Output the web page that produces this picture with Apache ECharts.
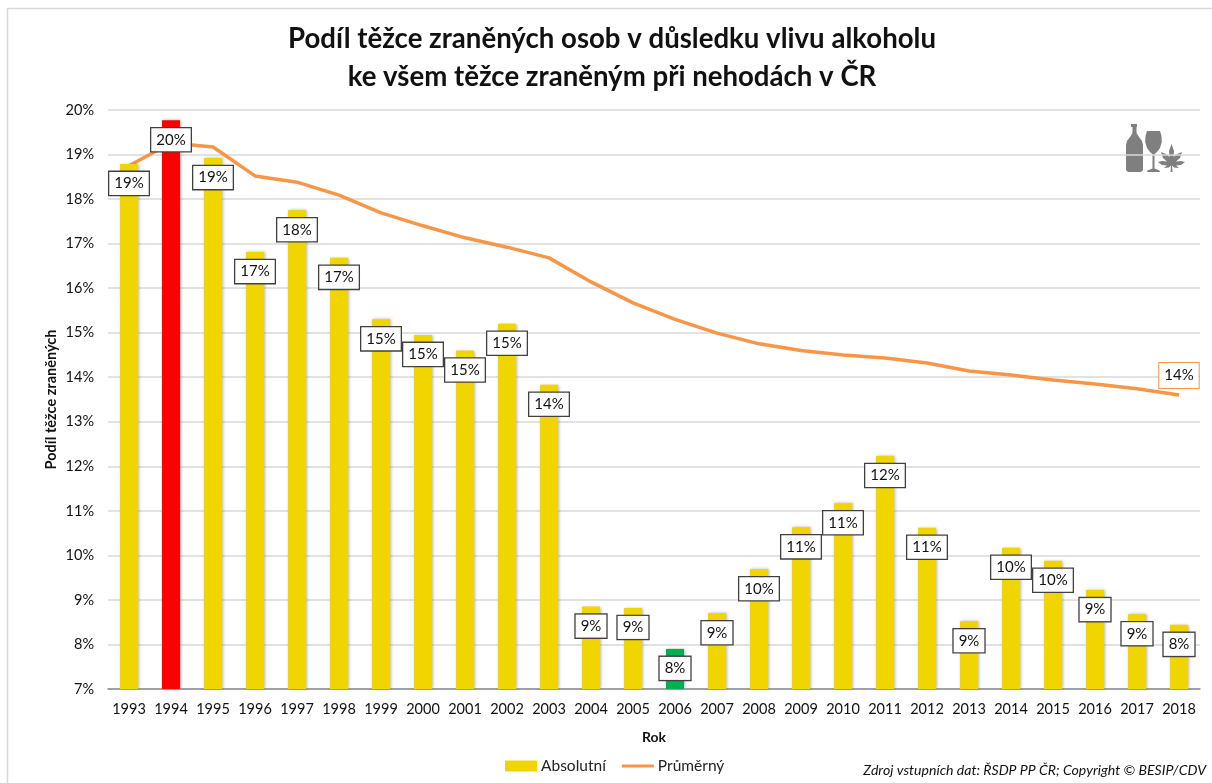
<!DOCTYPE html>
<html><head><meta charset="utf-8">
<style>html,body{margin:0;padding:0;background:#fff}#c{width:1212px;height:783px}</style>
<script src="https://cdn.jsdelivr.net/npm/echarts@6/dist/echarts.min.js"></script>
</head><body><div id="c"></div>
<script>
const years=['1993','1994','1995','1996','1997','1998','1999','2000','2001','2002','2003','2004','2005','2006','2007','2008','2009','2010','2011','2012','2013','2014','2015','2016','2017','2018'];
const absolutni=[18.79,19.77,18.92,16.81,17.75,16.68,15.3,14.95,14.6,15.2,13.83,8.85,8.82,7.9,8.7,9.69,10.63,11.17,12.23,10.62,8.52,10.17,9.88,9.22,8.68,8.44];
const prumerny=[18.75,19.26,19.17,18.52,18.38,18.09,17.69,17.4,17.13,16.92,16.68,16.14,15.67,15.3,14.99,14.75,14.6,14.5,14.43,14.32,14.14,14.05,13.94,13.85,13.74,13.6];
const barColors={'1994':'#FF0000','2006':'#00B050'};
const F='Lato';
const chart=echarts.init(document.getElementById('c'),null,{renderer:'canvas'});
const lbl={show:true,fontFamily:F,fontSize:15,color:'#111',backgroundColor:'#fff',borderWidth:1.3,borderColor:'#404040',padding:[4,5,4,5]};
const G='#7F7F7F';
chart.setOption({
 animation:false,
 title:{text:'Podíl těžce zraněných osob v důsledku vlivu alkoholu\nke všem těžce zraněným při nehodách v ČR',left:607,top:15,textAlign:'center',
  textStyle:{fontFamily:F,fontWeight:'bold',fontSize:27.6,lineHeight:38,color:'#111'}},
 grid:{left:108,right:12,top:110,height:579},
 legend:{left:500,top:753,itemGap:16,itemWidth:32,itemHeight:11,icon:'rect',selectedMode:false,
  textStyle:{fontFamily:F,fontSize:15.5,color:'#222',padding:[0,0,0,-1]},
  data:[{name:'Absolutní',icon:'rect',itemStyle:{color:'#F0D500'}},{name:'Průměrný',icon:'path://M0 4.5H32V7.5H0Z',itemStyle:{color:'#F79646'}}]},
 xAxis:{type:'category',data:years,name:'Rok',nameLocation:'middle',nameGap:41,nameMoveOverlap:false,
  nameTextStyle:{fontFamily:F,fontWeight:'bold',fontSize:14,color:'#111'},
  axisTick:{show:false},axisLine:{lineStyle:{color:'#8C8C8C',width:1.5}},
  axisLabel:{fontFamily:F,fontSize:14.5,color:'#111',margin:13,interval:0}},
 yAxis:{type:'value',min:7,max:20,interval:1,name:'Podíl těžce zraněných',nameLocation:'middle',nameGap:49,nameMoveOverlap:false,
  nameTextStyle:{fontFamily:F,fontWeight:'bold',fontSize:14.5,color:'#111'},
  axisLine:{show:false},axisTick:{show:false},
  axisLabel:{fontFamily:F,fontSize:14.5,color:'#111',margin:14,padding:[2,0,0,0],formatter:'{value}%'},
  splitLine:{lineStyle:{color:'#D9D9D9',width:1.5}}},
 series:[
  {name:'Absolutní',type:'bar',barWidth:18,z:3,
   data:absolutni.map((v,i)=>({value:v,itemStyle:{color:barColors[years[i]]||'#F0D500'}})),
   itemStyle:{shadowColor:'rgba(120,120,120,0.55)',shadowBlur:3,shadowOffsetX:1},
   label:Object.assign({},lbl,{position:'insideTop',distance:8,formatter:p=>Math.round(p.value)+'%'})},
  {name:'Průměrný',type:'line',z:2,symbol:'circle',symbolSize:0,showSymbol:true,showAllSymbol:true,smooth:false,
   lineStyle:{color:'#F79646',width:3.5},itemStyle:{color:'#F79646'},
   data:prumerny.map((v,i)=>i===prumerny.length-1?{value:v,label:Object.assign({},lbl,{position:'top',distance:7,borderColor:'#F79646',borderWidth:1,padding:[5,5,5,5],formatter:p=>Math.round(p.value)+'%'})}:v)}
 ],
 graphic:[
  {type:'line',shape:{x1:7.5,y1:8.5,x2:7.5,y2:783},style:{stroke:'#D9D9D9',lineWidth:1.5},silent:true},
  {type:'line',shape:{x1:7,y1:8.5,x2:1212,y2:8.5},style:{stroke:'#D9D9D9',lineWidth:1.5},silent:true},
  {type:'text',right:6,top:763,style:{text:'Zdroj vstupních dat: ŘSDP PP ČR; Copyright © BESIP/CDV',fontFamily:F,fontStyle:'italic',fontSize:14.1,fill:'#111'}},
  {type:'group',x:1126,y:124,silent:true,z:10,children:[
   {type:'polygon',shape:{points:[[5,0],[11,0],[11,3],[10.5,3],[10.5,9],[13,13],[16,17],[17,21],[17,46],[15,48],[2,48],[0,46],[0,21],[1,17],[4,13],[6.5,9],[6.5,3],[5,3]]},style:{fill:G}},
   {type:'polygon',shape:{points:[[21,7],[34,7],[35.5,12],[35.8,18],[34,24],[31,28],[28.5,30],[28.5,44.5],[33.5,46.5],[34,48],[21,48],[21.5,46.5],[26.5,44.5],[26.5,30],[24,28],[21,24],[19.2,18],[19.5,12]]},style:{fill:G}},
   {type:'polygon',shape:{points:[[45.5,20],[48,27],[47.5,33],[51,30],[56,28],[54,34],[50,37.5],[55,37],[59,38],[55,41],[50,41.5],[53,44],[48,43.5],[46,41.5],[46.5,48],[44.5,48],[45,41.5],[43,43.5],[38,44],[41,41.5],[36,41],[32,38],[36,37],[41,37.5],[37,34],[35,28],[40,30],[43.5,33],[43,27]]},style:{fill:G}}
  ]}
 ]
});
</script></body></html>
